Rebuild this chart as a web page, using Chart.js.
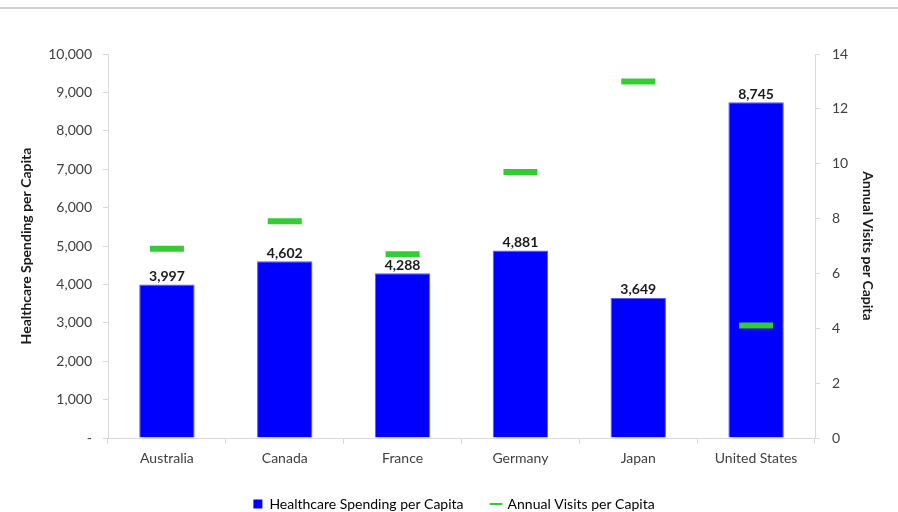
<!DOCTYPE html>
<html>
<head>
<meta charset="utf-8">
<script src="https://cdn.jsdelivr.net/npm/chart.js@4/dist/chart.umd.min.js"></script>
<style>
    html, body { margin: 0; padding: 0; background: #fff; }
    #wrap { position: relative; width: 898px; height: 512px; }
    #topRule { position: absolute; left: 0; top: 7px; width: 898px; height: 2px; background: #cfcfcf; }
    canvas { position: absolute; left: 0; top: 0; }
</style>
</head>
<body>
<div id="wrap">
    <div id="topRule"></div>
    <canvas id="healthChart" width="898" height="512"></canvas>
</div>
<script>
/* ================= DATA ================= */

const countries = ["Australia", "Canada", "France", "Germany", "Japan", "United States"];
const spendingPerCapita = [3997, 4602, 4288, 4881, 3649, 8745];
const visitsPerCapita = [6.9, 7.9, 6.7, 9.7, 13.0, 4.1];

const spendingTicks = [0, 1000, 2000, 3000, 4000, 5000, 6000, 7000, 8000, 9000, 10000];
const visitTicks = [0, 2, 4, 6, 8, 10, 12, 14];

const FONT = "Lato, 'Open Sans', sans-serif";
const TEXT = "#404040";
const AXIS = "#d9d9d9";

/* ================= HELPERS ================= */

function fmt(v) {
    return v === 0 ? "-" : Number(v).toLocaleString("en-US");
}

// writes the spending value over each bar
const barValueLabels = {
    id: "barValueLabels",
    afterDatasetsDraw(chart) {
        const ctx = chart.ctx;
        const meta = chart.getDatasetMeta(0);
        ctx.save();
        ctx.font = "bold 14px " + FONT;
        ctx.fillStyle = "#1a1a1a";
        ctx.textAlign = "center";
        ctx.textBaseline = "bottom";
        meta.data.forEach((bar, i) => {
            ctx.fillText(fmt(spendingPerCapita[i]), bar.x, bar.y - 1);
        });
        ctx.restore();
    }
};

/* ================= CHART ================= */

new Chart(document.getElementById("healthChart"), {
    type: "bar",
    data: {
        labels: countries,
        datasets: [
            {
                label: "Healthcare Spending per Capita",
                data: spendingPerCapita,
                backgroundColor: "#0000ff",
                borderColor: "#5a5aff",
                borderWidth: 1,
                barPercentage: 0.47,
                categoryPercentage: 1,
                yAxisID: "ySpend",
                order: 2
            },
            {
                type: "line",
                label: "Annual Visits per Capita",
                data: visitsPerCapita,
                showLine: false,
                pointStyle: "line",
                pointRadius: 17,
                pointHoverRadius: 17,
                borderWidth: 6,
                borderColor: "#33cc33",
                backgroundColor: "#33cc33",
                yAxisID: "yVisits",
                order: 1
            }
        ]
    },
    options: {
        responsive: false,
        animation: false,
        // legend sits a little lower than the default, hence the negative bottom
        layout: { padding: { top: 54, left: 18, right: 8, bottom: -9 } },
        plugins: {
            tooltip: { enabled: false },
            legend: {
                position: "bottom",
                labels: {
                    font: { family: FONT, size: 14 },
                    color: TEXT,
                    boxWidth: 9,
                    boxHeight: 9,
                    padding: 28,
                    usePointStyle: true,
                    generateLabels(chart) {
                        return [
                            {
                                text: "Healthcare Spending per Capita",
                                fillStyle: "#0000ff",
                                strokeStyle: "#0000ff",
                                lineWidth: 0,
                                pointStyle: "rect",
                                datasetIndex: 0
                            },
                            {
                                text: "Annual Visits per Capita",
                                fillStyle: "#33cc33",
                                strokeStyle: "#33cc33",
                                lineWidth: 2,
                                pointStyle: "line",
                                datasetIndex: 1
                            }
                        ];
                    }
                }
            }
        },
        scales: {
            x: {
                grid: {
                    display: true,
                    offset: true,
                    drawOnChartArea: false,
                    color: AXIS,
                    tickLength: 6
                },
                border: { color: AXIS, width: 1 },
                ticks: { font: { family: FONT, size: 14 }, color: TEXT, padding: 6 },
                afterFit(scale) { scale.height = 31; }
            },
            ySpend: {
                position: "left",
                min: 0,
                max: 10000,
                afterBuildTicks(scale) { scale.ticks = spendingTicks.map(v => ({ value: v })); },
                ticks: {
                    font: { family: FONT, size: 14 },
                    color: TEXT,
                    padding: 11,
                    callback: v => fmt(v)
                },
                grid: { drawOnChartArea: false, color: AXIS, tickLength: 5 },
                border: { color: AXIS, width: 1 },
                title: {
                    display: true,
                    text: "Healthcare Spending per Capita",
                    font: { family: FONT, size: 14, weight: "bold" },
                    color: "#1a1a1a",
                    padding: { top: 0, bottom: 14 }
                },
                afterFit(scale) { scale.width = 90; }
            },
            yVisits: {
                position: "right",
                min: 0,
                max: 14,
                afterBuildTicks(scale) { scale.ticks = visitTicks.map(v => ({ value: v })); },
                ticks: {
                    font: { family: FONT, size: 14 },
                    color: TEXT,
                    padding: 12
                },
                grid: { drawOnChartArea: false, color: AXIS, tickLength: 5 },
                border: { color: AXIS, width: 1 },
                title: {
                    display: true,
                    text: "Annual Visits per Capita",
                    font: { family: FONT, size: 14, weight: "bold" },
                    color: "#1a1a1a",
                    padding: { top: 14, bottom: 0 }
                },
                afterFit(scale) { scale.width = 75; }
            }
        }
    },
    plugins: [barValueLabels]
});
</script>
</body>
</html>
